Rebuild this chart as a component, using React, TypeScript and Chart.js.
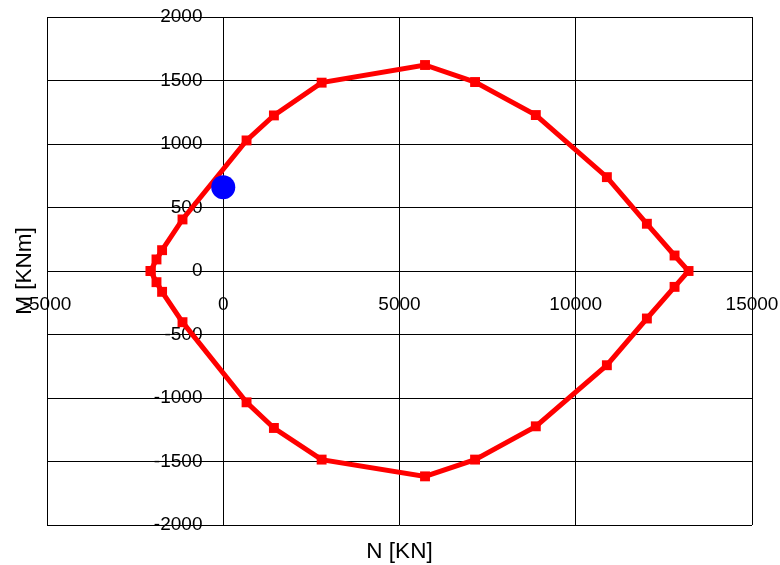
import React, { useEffect, useRef } from "react";
import { Chart, registerables } from "chart.js";

Chart.register(...registerables);

// Interaction diagram N–M (closed loop)
const curveN = [
  -2060, -1894, -1735, -1156, 661, 1437, 2791, 5724, 7144, 8867, 10883, 12018, 12803, 13200,
  12803, 12018, 10883, 8867, 7144, 5724, 2791, 1437, 661, -1156, -1735, -1894, -2060,
];
const curveM = [
  0, 91, 164, 406, 1028, 1225, 1483, 1622, 1488, 1228, 739, 372, 122, 0,
  -125, -374, -742, -1223, -1485, -1617, -1485, -1236, -1034, -403, -164, -88, 0,
];
const loadN = [0];
const loadM = [660];

const xTicks = [-5000, 0, 5000, 10000, 15000];
const yTicks = [-2000, -1500, -1000, -500, 0, 500, 1000, 1500, 2000];

const FONT = "'Liberation Sans', Arial, sans-serif";

const noPad = (s: any) => {
  s.paddingLeft = 0;
  s.paddingRight = 0;
  s.paddingTop = 0;
  s.paddingBottom = 0;
};

export default function App() {
  const ref = useRef<HTMLCanvasElement | null>(null);

  useEffect(() => {
    if (!ref.current) return;
    const curve = curveN.map((n, i) => ({ x: n, y: curveM[i] }));
    const load = loadN.map((n, i) => ({ x: n, y: loadM[i] }));
    const chart = new Chart(ref.current, {
      type: "scatter",
      data: {
        datasets: [
          {
            label: "load",
            data: load,
            pointStyle: "circle",
            pointRadius: 12,
            backgroundColor: "#0000ff",
            borderColor: "#0000ff",
            borderWidth: 0,
            showLine: false,
          },
          {
            label: "curve",
            data: curve,
            showLine: true,
            borderColor: "#ff0000",
            borderWidth: 5,
            pointStyle: "rect",
            pointRadius: 7,
            backgroundColor: "#ff0000",
            pointBorderWidth: 0,
            tension: 0,
          },
        ],
      },
      options: {
        responsive: false,
        animation: false,
        layout: { padding: { top: 17, right: 28, bottom: 0, left: 0 } },
        plugins: { legend: { display: false }, tooltip: { enabled: false } },
        scales: {
          x: {
            type: "linear",
            position: { y: 0 },
            min: -5000,
            max: 15000,
            afterBuildTicks: (s: any) => {
              s.ticks = xTicks.map((v) => ({ value: v }));
            },
            afterFit: (s: any) => {
              s.height = 0;
              noPad(s);
            },
            grid: { color: "#000", lineWidth: 1, drawTicks: false },
            border: { display: false },
            ticks: {
              color: "#000",
              font: { family: FONT, size: 19 },
              padding: 22,
              maxRotation: 0,
              autoSkip: false,
              callback: (v: any) => String(v),
            },
          },
          y: {
            type: "linear",
            // labels sit ~21px left of the N = 0 line
            position: { x: -590 },
            min: -2000,
            max: 2000,
            afterBuildTicks: (s: any) => {
              s.ticks = yTicks.map((v) => ({ value: v }));
            },
            afterFit: (s: any) => {
              s.width = 0;
              noPad(s);
            },
            grid: { color: "#000", lineWidth: 1, drawTicks: false },
            border: { display: false },
            ticks: {
              color: "#000",
              font: { family: FONT, size: 19 },
              padding: 0,
              autoSkip: false,
              callback: (v: any) => String(v),
            },
          },
          xt: {
            type: "linear",
            position: "bottom",
            display: true,
            afterFit: (s: any) => {
              s.height = 40;
              noPad(s);
            },
            grid: { display: false },
            border: { display: false },
            ticks: { display: false },
            title: {
              display: true,
              text: "N [KN]",
              color: "#000",
              font: { family: FONT, size: 22.5 },
              padding: { top: 8, bottom: 0 },
            },
          },
          yt: {
            type: "linear",
            position: "left",
            display: true,
            afterFit: (s: any) => {
              s.width = 47;
              noPad(s);
            },
            grid: { display: false },
            border: { display: false },
            ticks: { display: false },
            title: {
              display: true,
              text: "M [KNm]",
              color: "#000",
              font: { family: FONT, size: 22.5 },
              padding: { top: 11, bottom: 0 },
            },
          },
        },
      },
    });
    return () => chart.destroy();
  }, []);

  return (
    <div style={{ position: "fixed", left: 0, top: 0, width: 780, height: 565, background: "#fff" }}>
      <canvas ref={ref} width={780} height={565} style={{ width: 780, height: 565 }} />
    </div>
  );
}
